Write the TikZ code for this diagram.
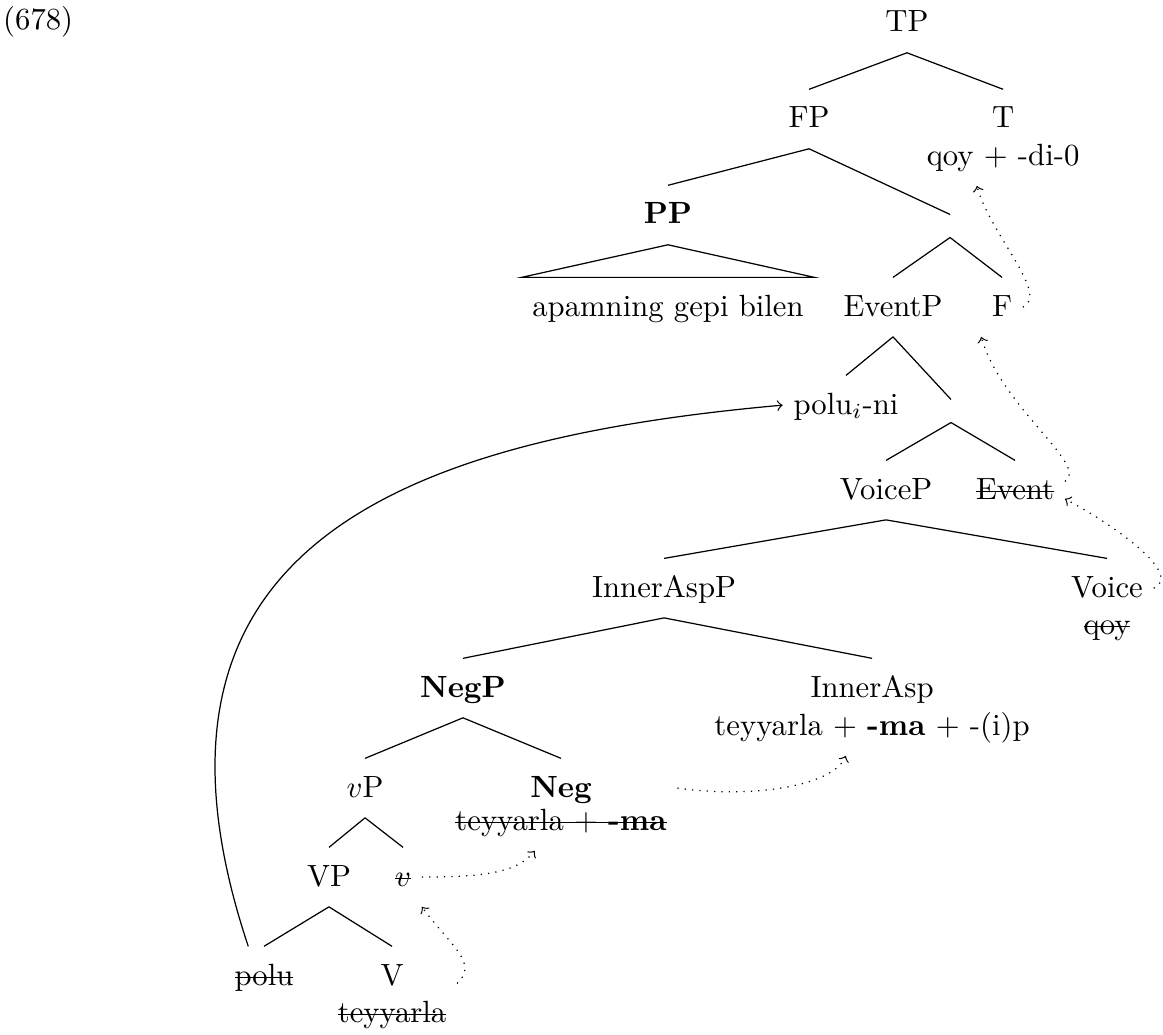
\documentclass[tikz,border=0pt]{standalone}
\usepackage{tikz}
\usetikzlibrary{calc}
\newsavebox\strkbox
\newcommand{\strk}[1]{\sbox\strkbox{#1}\rlap{\rule[.5ex]{\wd\strkbox}{0.4pt}}\usebox\strkbox}

\begin{document}
\begin{tikzpicture}[
    every node/.style={inner xsep=3.33pt, inner ysep=5.5pt, text height=1.6ex, text depth=.25ex, anchor=base},
    bar/.style={inner sep=0pt, text height=0pt, text depth=0pt, minimum height=2.5mm, anchor=center},
    mv/.style={dotted, ->}
]
\useasboundingbox (0,0) rectangle (13.314,-11.837);
\node[inner sep=0pt, anchor=base west] (ex) at (0.03,-0.343) {(678)};

% ---- top ----
\node (TP) at (10.383,-0.366) {TP};
\node (FP) at (9.262,-1.465) {FP};
\node (T) at (11.483,-1.465) {T};
\node (Tq) at (11.483,-1.889) {qoy + -di-0};
\node[bar] (FPbar) at (10.876,-2.587) {};
\node (PP) at (7.647,-2.564) {\textbf{PP}};
\node (apam) at (7.647,-3.618) {apamning gepi bilen};
\node (EventP) at (10.223,-3.618) {EventP};
\node (F) at (11.471,-3.618) {F};
\draw (TP.south)--(FP.north); \draw (TP.south)--(T.north);
\draw (FP.south)--(PP.north); \draw (FP.south)--(FPbar.north);
\draw (PP.south)--(apam.north west)--(apam.north east)--cycle;
\draw (FPbar.south)--(EventP.north); \draw (FPbar.south)--(F.north);

% ---- middle ----
\node (polui) at (9.685,-4.740) {polu$_i$-ni};
\node[bar] (EvPbar) at (10.887,-4.705) {};
\node (VoiceP) at (10.143,-5.713) {VoiceP};
\node (Event) at (11.620,-5.713) {\strk{Event}};
\node (InnerAspP) at (7.602,-6.835) {InnerAspP};
\node (Voice) at (12.673,-6.835) {Voice};
\node (Vq) at (12.673,-7.258) {\strk{qoy}};
\draw (EventP.south)--(polui.north); \draw (EventP.south)--(EvPbar.north);
\draw (EvPbar.south)--(VoiceP.north); \draw (EvPbar.south)--(Event.north);
\draw (VoiceP.south)--(InnerAspP.north); \draw (VoiceP.south)--(Voice.north);

% ---- bottom ----
\node (NegP) at (5.300,-7.979) {\textbf{NegP}};
\node (InnerAsp) at (9.983,-7.979) {InnerAsp};
\node (iat) at (9.983,-8.414) {teyyarla + \textbf{-ma} + -(i)p};
\node (vP) at (4.179,-9.124) {$v$P};
\node (Neg) at (6.422,-9.124) {\textbf{Neg}};
\node (negt) at (6.422,-9.502) {\strk{teyyarla + \textbf{-ma}}};
\node (VP) at (3.766,-10.143) {VP};
\node (v) at (4.614,-10.143) {\strk{$v$}};
\node (polu) at (3.022,-11.276) {\strk{polu}};
\node (V) at (4.488,-11.276) {V};
\node (Vt) at (4.488,-11.700) {\strk{teyyarla}};
\draw (InnerAspP.south)--(NegP.north); \draw (InnerAspP.south)--(InnerAsp.north);
\draw (NegP.south)--(vP.north); \draw (NegP.south)--(Neg.north);
\draw (vP.south)--(VP.north); \draw (vP.south)--(v.north);
\draw (VP.south)--(polu.north); \draw (VP.south)--(V.north);

% ---- movement ----
\draw[->] ([xshift=-1.8mm]polu.north) .. controls +(-1.5,4.5) and +(-4.5,-0.4) .. (polui.west);
\draw[mv] (Vt.north east) .. controls +(0.25,0.23) and +(0.34,-0.46) .. (v.south east);
\draw[mv] (v.east) .. controls +(0.7,0) and +(-0.2,-0.25) .. ([xshift=-3mm]negt.south);
\draw[mv] (negt.east |- Neg) .. controls +(0.85,-0.12) and +(-0.15,-0.35) .. ([xshift=-3mm]iat.south);
\draw[mv] (Voice.east) .. controls +(0.34,0.15) and +(0.6,-0.32) .. ([yshift=-1mm]Event.east);
\draw[mv] ([yshift=1mm]Event.east) .. controls +(0.29,0.17) and +(0.23,-0.8) .. (F.south west);
\draw[mv] (F.east) .. controls +(0.31,0.14) and +(0.15,-0.55) .. ([xshift=-3mm]Tq.south);
\end{tikzpicture}
\end{document}
